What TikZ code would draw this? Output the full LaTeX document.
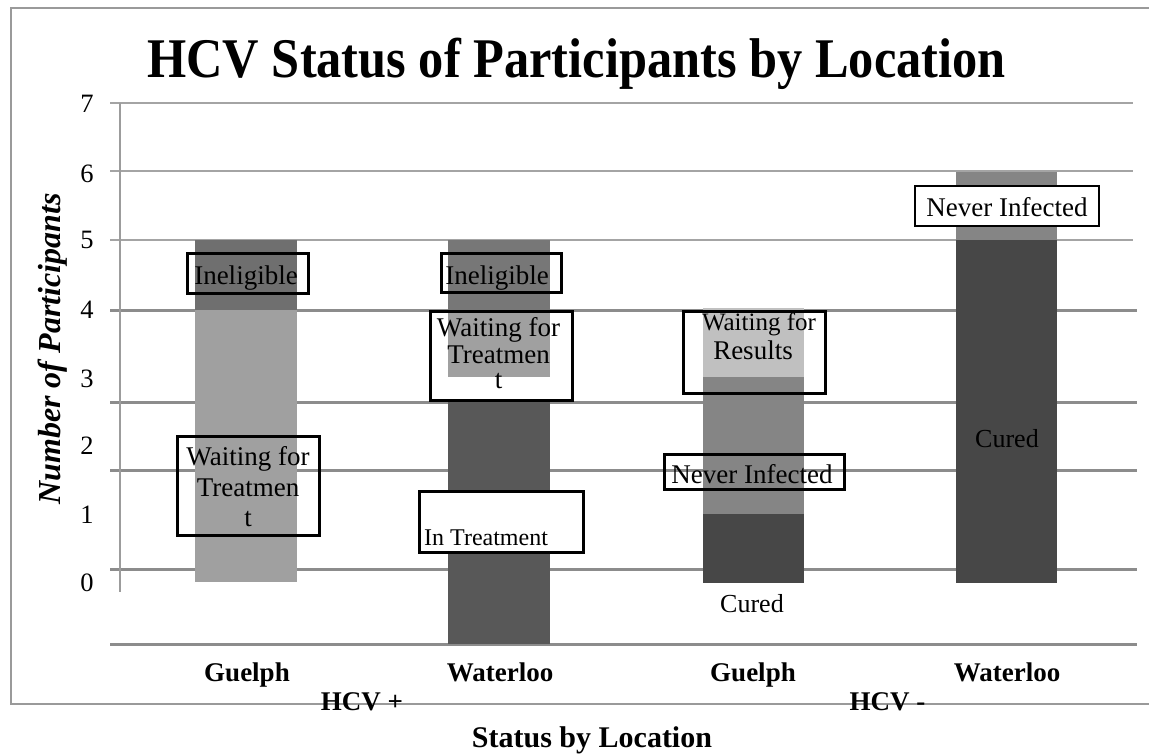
\documentclass[tikz,border=0pt]{standalone}
\usepackage{fontspec}
\setmainfont{Liberation Serif}
\newcommand{\pxf}[1]{\fontsize{#1}{#1}\selectfont}
\definecolor{frameg}{HTML}{9A9A9A}
\definecolor{gridlt}{HTML}{A4A4A4}
\definecolor{griddk}{HTML}{8C8C8C}
\definecolor{axisg}{HTML}{9C9C9C}
\definecolor{gA}{HTML}{6F6F6F}
\definecolor{gB}{HTML}{A0A0A0}
\definecolor{gC}{HTML}{777777}
\definecolor{gD}{HTML}{585858}
\definecolor{gE}{HTML}{C0C0C0}
\definecolor{gF}{HTML}{858585}
\definecolor{gG}{HTML}{474747}
\begin{document}
\begin{tikzpicture}[x=1pt,y=-1pt,
  frameline/.style={draw=frameg,line width=2pt},
  gthin/.style={draw=gridlt,line width=2pt},
  gthick/.style={draw=griddk,line width=3pt},
  axisline/.style={draw=axisg,line width=2pt},
  lbox/.style={draw=black,line width=3pt,inner sep=0pt},
  txt/.style={anchor=base,inner sep=0pt,font=\pxf{27}},
  small/.style={anchor=base,inner sep=0pt,font=\pxf{25}},
  tick/.style={anchor=base,inner sep=0pt,font=\pxf{26.5}},
  cat/.style={anchor=base,inner sep=0pt,font=\pxf{27}\bfseries}]
\useasboundingbox (0,0) rectangle (1149,753);
\fill[white] (0,0) rectangle (1149,753);
% frame
\draw[frameline] (1149,8) -- (11,8) -- (11,704) -- (1149,704);
% gridlines
\foreach \y in {103,171,240} \draw[gthin] (110,\y) -- (1133,\y);
\foreach \y in {310,402,470,569,644} \draw[gthick] (110,\y) -- (1137,\y);
\draw[axisline] (119.5,103) -- (119.5,592);
% bars
\fill[gA] (195,240) rectangle (297,310);
\fill[gB] (195,310) rectangle (297,582);
\fill[gC] (448,240) rectangle (550,310);
\fill[gB] (448,310) rectangle (550,377);
\fill[gD] (448,402) rectangle (550,644);
\fill[gE] (703,308) rectangle (804,377);
\fill[gF] (703,377) rectangle (804,514);
\fill[gG] (703,514) rectangle (804,583);
\fill[gF] (956,172) rectangle (1057,240);
\fill[gG] (956,240) rectangle (1057,583);
% title
\node[anchor=base,inner sep=0pt,font=\pxf{56}\bfseries] (title) at (576.5,77) {\scalebox{0.9}[1]{HCV Status of Participants by Location}};
% y ticks
\node[tick] (t7) at (87,112) {7};
\node[tick] (t6) at (87,182) {6};
\node[tick] (t5) at (87,248) {5};
\node[tick] (t4) at (87,318) {4};
\node[tick] (t3) at (87,387) {3};
\node[tick] (t2) at (87,454) {2};
\node[tick] (t1) at (87,523) {1};
\node[tick] (t0) at (87,591) {0};
\node[anchor=base,inner sep=0pt,rotate=90,font=\pxf{32}\bfseries\itshape] (ylab) at (60,349) {Number of Participants};
% boxes
\node[lbox,minimum width=121pt,minimum height=40pt] (b1) at (248,273.5) {};
\node[lbox,minimum width=142pt,minimum height=99pt] (b2) at (248.5,486) {};
\node[lbox,minimum width=120pt,minimum height=39pt] (b3) at (501.5,273) {};
\node[lbox,minimum width=142pt,minimum height=89pt] (b4) at (501.5,356) {};
\node[lbox,fill=white,minimum width=164pt,minimum height=61pt] (b5) at (501.5,522) {};
\node[lbox,minimum width=142pt,minimum height=82pt] (b6) at (754.5,352.5) {};
\node[lbox,minimum width=180pt,minimum height=35pt] (b7) at (754.5,472) {};
\node[lbox,line width=2pt,fill=white,minimum width=184pt,minimum height=40pt] (b8) at (1007,206) {};
% box texts
\node[txt] (l1) at (246,284) {Ineligible};
\node[txt] (l2a) at (248,465) {Waiting for};
\node[txt] (l2b) at (248,496) {Treatmen};
\node[txt] (l2c) at (248,526) {t};
\node[txt] (l3) at (497,284) {Ineligible};
\node[txt] (l4a) at (498.5,336) {Waiting for};
\node[txt] (l4b) at (498.5,363) {Treatmen};
\node[txt] (l4c) at (498.5,388) {t};
\node[small,anchor=base west,font=\pxf{24}] (l5) at (424,545) {In Treatment};
\node[small] (l6a) at (759,330) {Waiting for};
\node[txt] (l6b) at (753,359) {Results};
\node[txt] (l7) at (752,483) {Never Infected};
\node[txt] (l8) at (1007,216) {Never Infected};
\node[txt,font=\pxf{26}] (c1) at (1007,447) {Cured};
\node[txt,font=\pxf{26}] (c2) at (752,612) {Cured};
% axis categories
\node[cat] (x1) at (247,681) {Guelph};
\node[cat] (x2) at (500,681) {Waterloo};
\node[cat] (x3) at (753,681) {Guelph};
\node[cat] (x4) at (1007,681) {Waterloo};
\node[cat] (hp) at (362,710) {HCV +};
\node[cat] (hm) at (887.5,710) {HCV -};
\node[anchor=base,inner sep=0pt,font=\pxf{30}\bfseries] (xlab) at (592,747) {Status by Location};
\end{tikzpicture}
\end{document}
